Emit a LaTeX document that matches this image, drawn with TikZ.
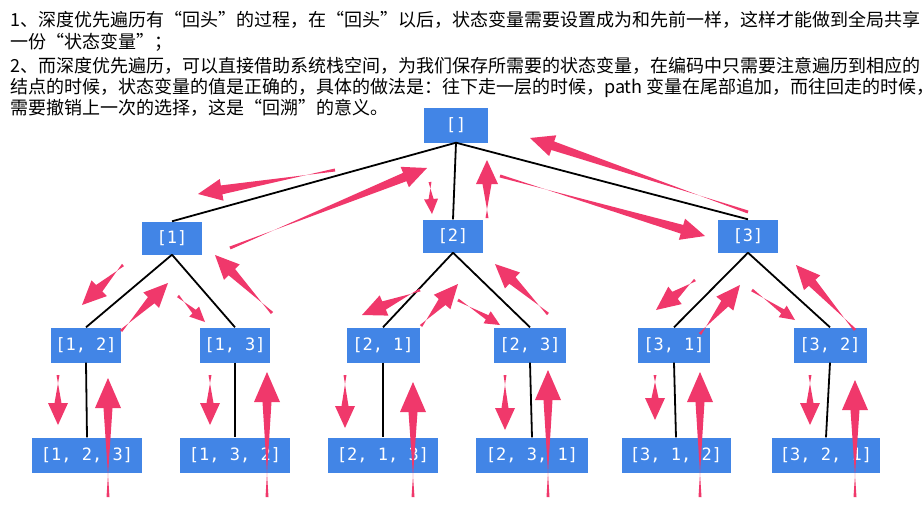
\documentclass[tikz,border=0pt]{standalone}
\usepackage{fontspec}
\newfontfamily\cjk{Noto Sans CJK SC}
\newfontfamily\mono{DejaVu Sans Mono}
\usetikzlibrary{calc}
\definecolor{boxblue}{RGB}{66,133,230}
\definecolor{rose}{RGB}{240,56,107}
\tikzset{
  box/.style={fill=boxblue,text=white,font=\mono\fontsize{17}{17}\selectfont,minimum height=35pt,inner xsep=4pt},
  edge/.style={black,line width=1.8pt},
  line/.style={anchor=west,inner sep=0pt,font=\cjk\fontsize{18}{19}\selectfont}
}
% tapered arrow: tail, tip, head length, head half width, shaft half width
\newcommand\backarrow[5]{%
  \coordinate (hb) at ($(#2)!#3pt!(#1)$);
  \fill[rose] ($(#1)!1.5pt!90:(#2)$) -- ($(hb)!#5pt!-90:(#2)$) -- ($(hb)!#4pt!-90:(#2)$)
    -- (#2) -- ($(hb)!#4pt!90:(#2)$) -- ($(hb)!#5pt!90:(#2)$) -- ($(#1)!1.5pt!-90:(#2)$) -- cycle;}
\newcommand\bigback[2]{\backarrow{#1}{#2}{24}{11}{4.5}}
\newcommand\smallback[2]{\backarrow{#1}{#2}{15}{7}{2.5}}
\begin{document}
\begin{tikzpicture}[x=1pt,y=-1pt]
\useasboundingbox (0,0) rectangle (922,514);

\node[line] at (10,20) {1、深度优先遍历有“回头”的过程，在“回头”以后，状态变量需要设置成为和先前一样，这样才能做到全局共享};
\node[line] at (10,42) {一份“状态变量”；};
\node[line] at (10,66) {2、而深度优先遍历，可以直接借助系统栈空间，为我们保存所需要的状态变量，在编码中只需要注意遍历到相应的};
\node[line] at (10,88) {结点的时候，状态变量的值是正确的，具体的做法是：往下走一层的时候，path 变量在尾部追加，而往回走的时候，};
\node[line] at (10,108) {需要撤销上一次的选择，这是“回溯”的意义。};

% tree
\node[box,minimum width=64pt] (r) at (456,125) {[]};
\node[box,minimum width=60pt,minimum height=33pt] (a1) at (172,238) {[1]};
\node[box,minimum width=60pt,minimum height=33pt] (a2) at (453,236) {[2]};
\node[box,minimum width=60pt,minimum height=33pt] (a3) at (748,236) {[3]};
\node[box,minimum width=67pt] (b12) at (86,345) {[1, 2]};
\node[box,minimum width=70pt] (b13) at (235,345) {[1, 3]};
\node[box,minimum width=73pt] (b21) at (383,345) {[2, 1]};
\node[box,minimum width=72pt] (b23) at (530,345) {[2, 3]};
\node[box,minimum width=72pt] (b31) at (674,345) {[3, 1]};
\node[box,minimum width=73pt] (b32) at (830,345) {[3, 2]};
\node[box,minimum width=110pt] (c123) at (87,455) {[1, 2, 3]};
\node[box,minimum width=110pt] (c132) at (235,455) {[1, 3, 2]};
\node[box,minimum width=110pt] (c213) at (383,455) {[2, 1, 3]};
\node[box,minimum width=112pt] (c231) at (532,455) {[2, 3, 1]};
\node[box,minimum width=109pt] (c312) at (676,455) {[3, 1, 2]};
\node[box,minimum width=108pt] (c321) at (826,455) {[3, 2, 1]};

\foreach \p/\c in {r/a1,r/a2,r/a3,a1/b12,a1/b13,a2/b21,a2/b23,a3/b31,a3/b32,
                   b12/c123,b13/c132,b21/c213,b23/c231,b31/c312,b32/c321}
  \draw[edge] (\p.south) -- (\c.north);

% going down and coming back
\bigback{335,170}{198,194}
\bigback{230,248}{427,168}
\smallback{430,182}{432,214}
\bigback{487,218}{487,160}
\bigback{500,176}{705,236}
\bigback{748,212}{530,138}

\bigback{123,265}{82,305}
\bigback{121,331}{168,283}
\smallback{178,296}{205,322}
\bigback{272,313}{215,255}
\bigback{420,290}{362,315}
\bigback{421,326}{458,284}
\smallback{458,300}{500,325}
\bigback{548,314}{495,264}
\bigback{695,280}{656,310}
\bigback{700,334}{740,285}
\smallback{752,290}{795,320}
\bigback{855,330}{796,265}

\foreach \x/\t in {58/425,210/425,345/428,505/430,655/420,810/425}
  \backarrow{\x,375}{\x,\t}{22}{10}{3.5};
\foreach \x/\t in {108/378,267/372,413/382,548/370,700/372,855/380}
  \backarrow{\x,497}{\x,\t}{30}{13}{4.5};
\end{tikzpicture}
\end{document}
